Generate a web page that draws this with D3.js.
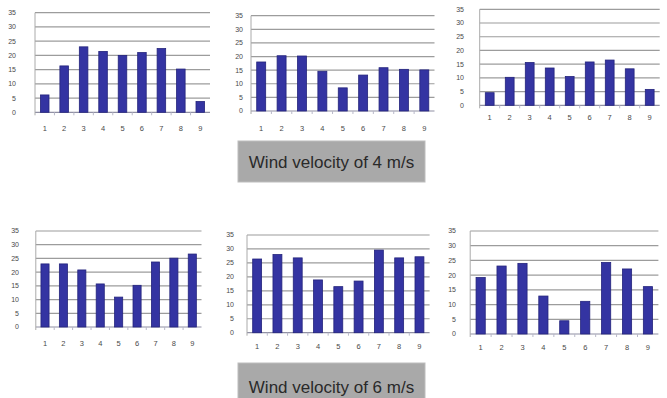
<!DOCTYPE html>
<html><head><meta charset="utf-8">
<script src="https://cdn.jsdelivr.net/npm/d3@7"></script>
<style>
body{margin:0;background:#fff;}
svg{display:block;}
</style></head>
<body>
<svg id="chart" width="667" height="398"></svg>
<script>
// ---- data ----
const categories = ["1","2","3","4","5","6","7","8","9"];
const yTicks = [0,5,10,15,20,25,30,35];
const panelA = [6.1, 16.3, 23.0, 21.4, 20.0, 21.0, 22.4, 15.2, 3.8];   // top-left
const panelB = [18.0, 20.3, 20.2, 14.6, 8.5, 13.2, 15.9, 15.3, 15.1];  // top-middle
const panelC = [4.6, 10.2, 15.6, 13.6, 10.5, 15.8, 16.5, 13.3, 5.8];   // top-right
const panelD = [23.0, 23.0, 20.8, 15.7, 10.9, 15.2, 23.7, 25.1, 26.6]; // bottom-left
const panelE = [26.4, 28.0, 26.8, 18.9, 16.5, 18.5, 29.6, 26.8, 27.2]; // bottom-middle
const panelF = [19.2, 23.1, 24.0, 12.9, 4.5, 11.1, 24.3, 22.1, 16.1]; // bottom-right
const captions = ["Wind velocity of 4 m/s", "Wind velocity of 6 m/s"];

// ---- layout ----
const panels = [
  {values: panelA, left: 35,    right: 210,   y0: 112.3, yTop: 12.7, labelY: 128,   tickX: 16},
  {values: panelB, left: 251,   right: 434.5, y0: 111,   yTop: 15.7, labelY: 128,   tickX: 243},
  {values: panelC, left: 479.7, right: 659.7, y0: 105.3, yTop: 9.3,  labelY: 117.3, tickX: 464},
  {values: panelD, left: 35.8,  right: 201.5, y0: 327,   yTop: 231,  labelY: 343.3, tickX: 19},
  {values: panelE, left: 247,   right: 429.6, y0: 332.7, yTop: 235,  labelY: 346.7, tickX: 234},
  {values: panelF, left: 470.2, right: 658.4, y0: 334,   yTop: 231,  labelY: 347.3, tickX: 456}
];
const captionBoxes = [
  {x: 238, y: 141, w: 187, h: 41},
  {x: 238, y: 363, w: 187, h: 40}
];

const svg = d3.select("#chart");

panels.forEach(p => {
  const g = svg.append("g");
  const x = d3.scaleBand().domain(categories).range([p.left, p.right])
    .paddingInner(0.56).paddingOuter(0.28);
  const y = d3.scaleLinear().domain([0, 35]).range([p.y0, p.yTop]);

  // gridlines
  g.selectAll("line.grid").data(yTicks).join("line")
    .attr("x1", p.left).attr("x2", p.right)
    .attr("y1", d => y(d)).attr("y2", d => y(d))
    .attr("stroke", d => d === 0 ? "#9090a4" : "#9c9c9c")
    .attr("stroke-width", 1.2);

  // left axis line
  g.append("line")
    .attr("x1", p.left).attr("x2", p.left)
    .attr("y1", y(35)).attr("y2", y(0) + 3)
    .attr("stroke", "#aaaaaa");

  // x tick marks between categories
  const step = x.step();
  g.selectAll("line.xt").data(categories.slice(1)).join("line")
    .attr("x1", d => x(d) - step * x.paddingInner() / 2)
    .attr("x2", d => x(d) - step * x.paddingInner() / 2)
    .attr("y1", y(0)).attr("y2", y(0) + 3)
    .attr("stroke", "#b8b8c8");

  // y tick labels
  g.selectAll("text.yl").data(yTicks).join("text")
    .attr("x", p.tickX).attr("y", d => y(d))
    .attr("dy", "0.35em")
    .attr("text-anchor", "end")
    .attr("font-family", "Liberation Sans, Arial, sans-serif")
    .attr("font-size", 7)
    .attr("fill", "#4a4a4a")
    .text(d => d);

  // x labels
  g.selectAll("text.xl").data(categories).join("text")
    .attr("x", d => x(d) + x.bandwidth() / 2).attr("y", p.labelY)
    .attr("dy", "0.35em")
    .attr("text-anchor", "middle")
    .attr("font-family", "Liberation Sans, Arial, sans-serif")
    .attr("font-size", 7.5)
    .attr("fill", "#4a4a4a")
    .text(d => d);

  // bars
  g.selectAll("rect.bar").data(p.values).join("rect")
    .attr("x", (d, i) => x(categories[i]))
    .attr("y", d => y(d))
    .attr("width", x.bandwidth())
    .attr("height", d => y(0) - y(d))
    .attr("fill", "#3434a2")
    .attr("stroke", "#24247c")
    .attr("stroke-width", 0.8);
});

// captions
captionBoxes.forEach((b, i) => {
  svg.append("rect")
    .attr("x", b.x).attr("y", b.y).attr("width", b.w).attr("height", b.h)
    .attr("fill", "#a9a9a9").attr("stroke", "#bdbdbd");
  svg.append("text")
    .attr("x", b.x + b.w / 2).attr("y", i === 0 ? b.y + b.h / 2 + 1 : b.y + 24)
    .attr("dy", "0.35em")
    .attr("text-anchor", "middle")
    .attr("font-family", "Liberation Sans, Arial, sans-serif")
    .attr("font-size", 17)
    .attr("fill", "#2a2a2a")
    .text(captions[i]);
});
</script>
</body></html>
